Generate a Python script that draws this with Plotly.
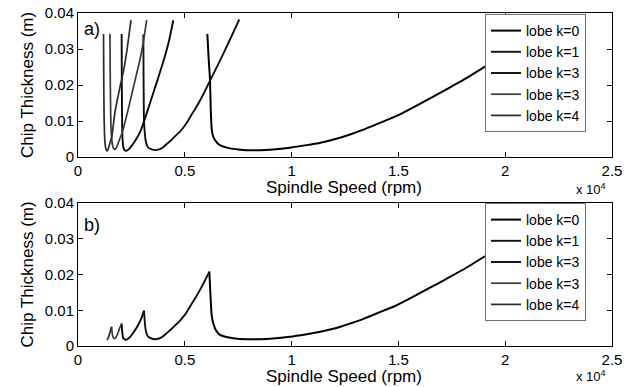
import plotly.graph_objects as go

# ---------------- data ----------------
names = ["lobe k=0", "lobe k=1", "lobe k=3", "lobe k=3", "lobe k=4"]

# panel a) full stability lobes
a_k0_x = [6055, 6120, 6180, 6215, 6240, 6270, 6330, 6414, 6520, 6648, 6850, 7117, 7500, 7900, 8500,
          9130, 9926, 10707, 11300, 11800, 12300, 12800, 13360, 14100, 14920, 15700, 16480, 17250,
          18040, 19055, 20500, 22000]
a_k0_y = [0.0342, 0.0270, 0.0214, 0.0130, 0.0095, 0.0072, 0.0057, 0.0047, 0.0039, 0.0033, 0.0028,
          0.0024, 0.0021, 0.0019, 0.0019, 0.0021, 0.0026, 0.0033, 0.0039, 0.0046, 0.0054, 0.0064,
          0.0076, 0.0094, 0.0114, 0.0138, 0.0163, 0.0188, 0.0214, 0.0251, 0.0305, 0.0365]

a_k1_x = [3060, 3070, 3080, 3090, 3130, 3168, 3230, 3293, 3450, 3605, 3800, 4000, 4152, 4350, 4550,
          4750, 4933, 5100, 5300, 5500, 5712, 5950, 6180, 6600, 7050, 7550]
a_k1_y = [0.0340, 0.0220, 0.0140, 0.0099, 0.0065, 0.0045, 0.0032, 0.0026, 0.0021, 0.0019, 0.0021,
          0.0028, 0.0036, 0.0046, 0.0058, 0.0069, 0.0082, 0.0096, 0.0116, 0.0135, 0.0157, 0.0184,
          0.0212, 0.0262, 0.0318, 0.0382]

a_k2_x = [2044, 2050, 2060, 2070, 2090, 2120, 2170, 2247, 2400, 2500, 2750, 2950, 3090, 3400, 3700,
          3995, 4250, 4460]
a_k2_y = [0.0342, 0.0220, 0.0130, 0.0080, 0.0045, 0.0028, 0.0020, 0.0017, 0.0023, 0.0030, 0.0052,
          0.0075, 0.0099, 0.0155, 0.0210, 0.0265, 0.0320, 0.0380]

a_k3_x = [1495, 1510, 1530, 1550, 1576, 1610, 1660, 1732, 1850, 1950, 2044, 2300, 2600, 2900, 3060, 3215]
a_k3_y = [0.0342, 0.0220, 0.0120, 0.0075, 0.0054, 0.0035, 0.0024, 0.0021, 0.0033, 0.0050, 0.0063,
          0.0120, 0.0195, 0.0270, 0.0320, 0.0380]

a_k4_x = [1195, 1205, 1220, 1240, 1270, 1310, 1350, 1400, 1470, 1540, 1576, 1732, 1950, 2150, 2300, 2480]
a_k4_y = [0.0342, 0.0220, 0.0120, 0.0065, 0.0035, 0.0022, 0.0017, 0.0020, 0.0033, 0.0048, 0.0054,
          0.0125, 0.0190, 0.0245, 0.0300, 0.0380]

# panel b) lower envelope, one piece per lobe
b_k0_x = [6149, 6180, 6212, 6260, 6336, 6450, 6648, 6900, 7273, 7900, 8500, 9130, 9926, 10707, 11300,
          11800, 12300, 12800, 13360, 14100, 14920, 15700, 16480, 17250, 18040, 19055, 20500, 22000]
b_k0_y = [0.0208, 0.0170, 0.0129, 0.0085, 0.0063, 0.0045, 0.0031, 0.0026, 0.0022, 0.0019, 0.0019,
          0.0021, 0.0026, 0.0033, 0.0039, 0.0046, 0.0054, 0.0064, 0.0076, 0.0094, 0.0114, 0.0138,
          0.0163, 0.0188, 0.0214, 0.0251, 0.0305, 0.0365]

b_k1_x = [3090, 3130, 3168, 3230, 3293, 3450, 3605, 3800, 4000, 4152, 4350, 4550, 4750, 4933, 5100,
          5300, 5500, 5712, 5950, 6149]
b_k1_y = [0.0099, 0.0065, 0.0045, 0.0032, 0.0026, 0.0021, 0.0019, 0.0021, 0.0028, 0.0036, 0.0046,
          0.0058, 0.0069, 0.0082, 0.0096, 0.0116, 0.0135, 0.0157, 0.0184, 0.0208]

b_k2_x = [2044, 2070, 2120, 2247, 2400, 2500, 2750, 2950, 3090]
b_k2_y = [0.0063, 0.0040, 0.0022, 0.0017, 0.0023, 0.0030, 0.0052, 0.0075, 0.0099]

b_k3_x = [1576, 1600, 1650, 1732, 1850, 1950, 2044]
b_k3_y = [0.0054, 0.0035, 0.0024, 0.0021, 0.0033, 0.0050, 0.0063]

b_k4_x = [1342, 1400, 1470, 1540, 1576]
b_k4_y = [0.0017, 0.0020, 0.0033, 0.0048, 0.0054]

x_tickvals = [0, 5000, 10000, 15000, 20000, 25000]
x_ticktext = ["0", "0.5", "1", "1.5", "2", "2.5"]
y_tickvals = [0, 0.01, 0.02, 0.03, 0.04]
y_ticktext = ["0", "0.01", "0.02", "0.03", "0.04"]

# ---------------- styling ----------------
FONT = "Liberation Sans, Arial, sans-serif"
line_colors = ["#000000", "#111111", "#0a0a0a", "#3a3a3a", "#2a2a2a"]
line_widths = [2.0, 1.9, 1.9, 1.7, 1.7]

W, H = 633, 387
def px_x(p): return p / W
def px_y(p): return 1 - p / H

fig = go.Figure()

a_sets = [(a_k0_x, a_k0_y), (a_k1_x, a_k1_y), (a_k2_x, a_k2_y), (a_k3_x, a_k3_y), (a_k4_x, a_k4_y)]
b_sets = [(b_k0_x, b_k0_y), (b_k1_x, b_k1_y), (b_k2_x, b_k2_y), (b_k3_x, b_k3_y), (b_k4_x, b_k4_y)]

for i, (xs, ys) in enumerate(a_sets):
    fig.add_trace(go.Scatter(x=xs, y=ys, mode="lines", name=names[i],
                             line=dict(color=line_colors[i], width=line_widths[i],
                                       shape="spline", smoothing=0.5),
                             xaxis="x", yaxis="y", legend="legend"))
for i, (xs, ys) in enumerate(b_sets):
    fig.add_trace(go.Scatter(x=xs, y=ys, mode="lines", name=names[i],
                             line=dict(color=line_colors[i], width=line_widths[i],
                                       shape="spline", smoothing=0.5),
                             xaxis="x2", yaxis="y2", legend="legend2"))

xdom = [px_x(78), px_x(612)]
common_x = dict(range=[0, 25000], tickvals=x_tickvals, ticktext=x_ticktext, ticks="inside",
                ticklen=5, tickcolor="black", showline=True, linecolor="black", linewidth=1,
                mirror="ticks", showgrid=False, zeroline=False, automargin=False,
                tickfont=dict(family=FONT, size=15, color="black"), domain=xdom)
common_y = dict(range=[0, 0.04], tickvals=y_tickvals, ticktext=y_ticktext, ticks="inside",
                ticklen=5, tickcolor="black", showline=True, linecolor="black", linewidth=1,
                mirror="ticks", showgrid=False, zeroline=False, automargin=False,
                tickfont=dict(family=FONT, size=15, color="black"), domain=[0, 1])

leg_common = dict(font=dict(family=FONT, size=14, color="black"), bgcolor="white",
                  bordercolor="#707070", borderwidth=1, xanchor="left", yanchor="top",
                  tracegroupgap=0, itemwidth=30, entrywidth=66, entrywidthmode="pixels")

fig.update_layout(
    width=W, height=H, margin=dict(l=0, r=0, t=0, b=0),
    paper_bgcolor="white", plot_bgcolor="white",
    font=dict(family=FONT, color="black"),
    xaxis=dict(common_x, anchor="y"),
    yaxis=dict(common_y, anchor="x", domain=[px_y(157), px_y(13)]),
    xaxis2=dict(common_x, anchor="y2"),
    yaxis2=dict(common_y, anchor="x2", domain=[px_y(346), px_y(203)]),
    legend=dict(leg_common, x=px_x(485), y=px_y(14)),
    legend2=dict(leg_common, x=px_x(485), y=px_y(203)),
    showlegend=True,
)

ann = []
for yc in [187, 376]:
    ann.append(dict(text="Spindle Speed (rpm)", x=px_x(344), y=px_y(yc), xref="paper", yref="paper",
                    showarrow=False, font=dict(family=FONT, size=17, color="black"),
                    xanchor="center", yanchor="middle"))
for yc in [85, 274.5]:
    ann.append(dict(text="Chip Thickness (m)", x=px_x(27), y=px_y(yc), xref="paper", yref="paper",
                    showarrow=False, textangle=-90, font=dict(family=FONT, size=17, color="black"),
                    xanchor="center", yanchor="middle"))
for yc in [189, 376]:
    ann.append(dict(text="x 10<sup>4</sup>", x=px_x(591), y=px_y(yc), xref="paper", yref="paper",
                    showarrow=False, font=dict(family=FONT, size=13, color="black"),
                    xanchor="center", yanchor="middle"))
ann.append(dict(text="a)", x=px_x(82), y=px_y(29), xref="paper", yref="paper", showarrow=False,
                font=dict(family=FONT, size=18, color="black"), xanchor="left", yanchor="middle"))
ann.append(dict(text="b)", x=px_x(82), y=px_y(225), xref="paper", yref="paper", showarrow=False,
                font=dict(family=FONT, size=18, color="black"), xanchor="left", yanchor="middle"))
fig.update_layout(annotations=ann)

fig.write_html("out.html")
